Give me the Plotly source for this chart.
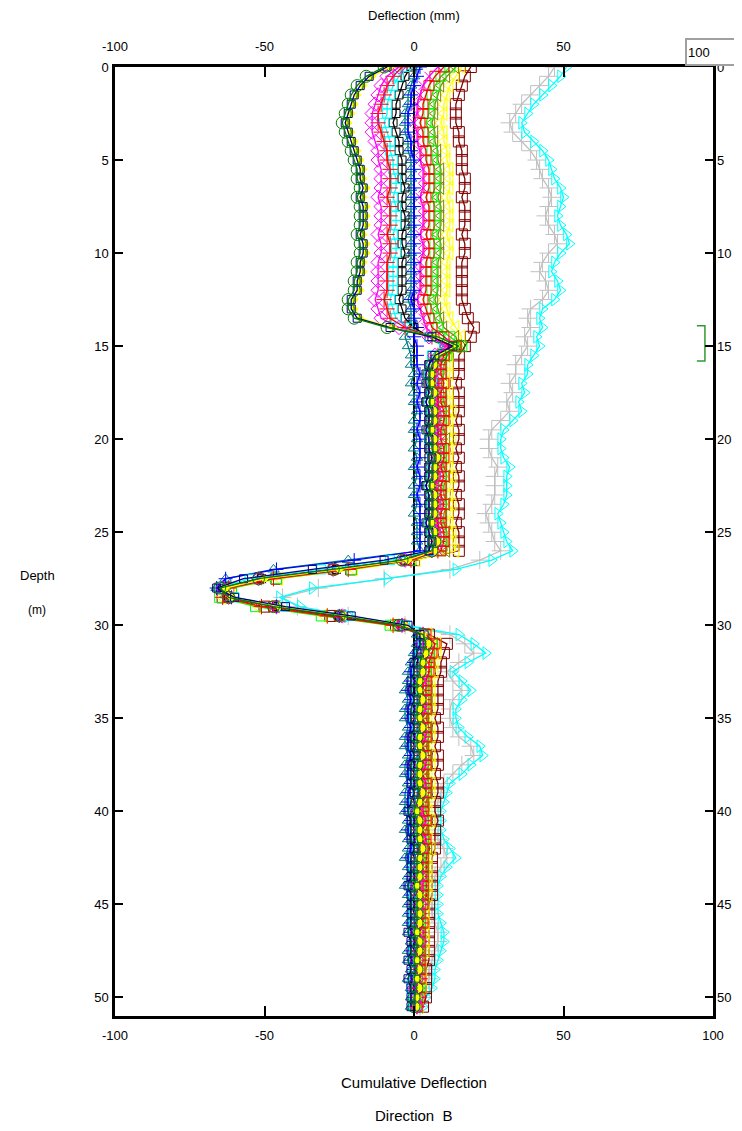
import plotly.graph_objects as go

# Depth of each reading (m), every 0.5 m from 0 to 50.5
depth = [i * 0.5 for i in range(102)]

# Cumulative deflection (mm) per survey, one value per depth
dkgreen_o = [-10,-16,-19,-21,-22,-23,-24,-23,-22,-21,-20,-19,-19,-18,-19,-18,-18,-18,-19,-18,-18,-19,-19,-20,-20,-22,-22,-20,
             -9, 8, 15, 9,
             6,5,5,6,5,6,6,5,6,6,7,6,6,5,6,6,6,5,6,7,6,
             -4,-27,-52,-65,-62,-47,-25,-5,3,
             4,3,2,2,1,1,2,1,1,2, 1,1,2,1,1,1,2,1,0,1, 1,1,2,1,1,1,0,1,1,1, 1,0,1,1,0,1,0,1,0,0]
navy_s = [-9,-15,-18,-20,-21,-22,-23,-22,-21,-20,-19,-18,-18,-17,-18,-17,-17,-17,-18,-17,-17,-18,-18,-19,-19,-21,-21,-19,
          -8, 6, 13, 7,
          5,4,4,5,4,5,5,4,5,5,6,5,5,4,5,5,5,4,5,6,5,
          -10,-34,-57,-66,-60,-43,-21,-2,2,
          2,1,0,0,-1,-1,0,-1,-1,0, -1,-1,0,-1,-1,-1,0,-1,-2,-1, -1,-1,0,-1,-1,-1,-2,-1,-1,-1, -1,-2,-1,-1,-2,-1,-2,-1,-1,-1]
yellow_d = [-8,-14,-17,-19,-20,-21,-22,-21,-20,-19,-18,-17,-17,-16,-17,-16,-16,-16,-17,-16,-16,-17,-17,-18,-18,-20,-20,-18,
            -7, 7, 14, 8,
            7,6,6,7,6,7,7,6,7,7,8,7,7,6,7,7,7,6,7,8,7,
            -2,-25,-50,-63,-61,-45,-23,-3,3,
            5,4,3,3,2,2,3,2,2,3, 2,2,3,2,2,2,3,2,1,2, 2,2,3,2,2,2,1,2,2,2, 2,1,2,2,1,2,1,2,1,1]
magenta_d = [-5,-9,-11,-12,-13,-14,-14,-14,-13,-12,-12,-11,-11,-11,-12,-11,-11,-11,-12,-11,-11,-12,-12,-12,-12,-13,-12,-11,
             -5, 5, 11, 7,
             6,6,5,6,6,7,6,6,7,6,7,6,7,6,6,7,6,6,7,7,6,
             -3,-27,-52,-64,-62,-46,-24,-4,3,
             3,3,2,2,2,1,2,2,1,2, 2,1,2,2,1,2,2,1,1,2, 1,2,2,1,1,2,1,1,2,1, 1,1,2,1,1,1,1,0,1,1]
red_p = [-4,-7,-9,-10,-11,-12,-12,-11,-10,-9,-9,-8,-8,-8,-9,-8,-8,-8,-9,-8,-8,-9,-9,-9,-9,-10,-9,-8,
         -3, 6, 12, 8,
         8,7,7,8,8,8,7,8,8,7,8,8,8,7,8,8,7,8,8,8,8,
         -1,-22,-47,-62,-64,-51,-29,-7,3,
         5,4,4,3,3,3,3,3,2,3, 3,2,3,3,2,3,3,2,2,3, 2,3,3,2,2,2,2,2,2,2, 2,2,2,1,2,1,2,1,1,1]
cyan_s = [-3,-5,-7,-8,-9,-9,-10,-9,-8,-8,-7,-7,-6,-6,-7,-6,-6,-6,-7,-6,-6,-7,-7,-7,-7,-8,-7,-6,
          -2, 5, 10, 6,
          6,5,6,6,5,6,6,6,5,6,6,6,6,5,6,6,6,5,6,6,6,
          -8,-31,-55,-65,-60,-44,-22,-3,2,
          3,2,2,1,1,1,1,1,0,1, 1,0,1,1,0,1,1,0,0,1, 0,1,1,0,0,1,0,0,1,0, 0,0,1,0,0,0,0,-1,0,0]
black_s = [-1,-3,-4,-5,-6,-6,-7,-6,-5,-5,-4,-4,-4,-3,-4,-4,-3,-3,-4,-4,-3,-4,-4,-4,-4,-5,-4,-3,
           0, 5, 10, 6,
           5,5,5,5,4,5,5,5,5,5,5,5,5,4,5,5,5,5,5,5,5,
           -3,-26,-51,-64,-62,-46,-25,-4,2,
           3,2,1,1,1,0,1,1,0,1, 0,0,1,0,0,1,0,0,0,0, 0,0,1,0,0,0,0,0,0,0, 0,0,0,0,0,0,0,0,0,0]
teal_t = [1,0,-1,-2,-2,-3,-3,-3,-2,-2,-1,-1,-1,-1,-1,-1,-1,-1,-1,-1,-1,-1,-1,-1,-1,-2,-1,-1,
          -1, -3, -2, -1,
          -1,0,-1,0,0,1,0,0,1,0,1,0,1,0,0,1,0,1,1,1,2,
          -22,-47,-63,-66,-61,-46,-25,-4,1,
          1,0,-1,-2,-2,-3,-2,-3,-3,-2, -3,-3,-2,-3,-3,-2,-3,-3,-3,-2, -3,-2,-2,-3,-2,-2,-3,-2,-2,-2, -2,-2,-1,-2,-2,-1,-2,-1,-1,-1]
magenta_x = [8,5,3,2,1,1,0,1,1,2,2,3,3,3,2,3,3,3,2,3,3,2,2,2,2,1,2,3,
             4, 7, 12, 8,
             8,7,8,8,7,8,8,8,7,8,8,8,8,7,8,8,8,7,8,8,8,
             -2,-26,-51,-64,-62,-46,-24,-4,3,
             5,4,3,3,3,2,3,3,2,3, 3,2,3,3,2,3,3,2,2,3, 2,3,3,2,2,2,2,2,2,2, 2,1,2,2,1,2,1,1,1,1]
red_s = [10,7,5,4,3,3,2,3,3,4,4,5,5,5,4,5,5,5,4,5,5,4,4,4,4,3,4,5,
         6, 10, 14, 10,
         9,9,10,9,9,10,10,9,9,10,10,9,10,9,9,10,9,9,10,10,9,
         -3,-27,-52,-65,-62,-47,-25,-4,4,
         7,6,5,5,4,4,4,4,3,4, 4,3,4,4,3,4,4,3,3,4, 3,4,3,3,3,3,3,3,3,2, 3,2,2,2,2,2,2,1,2,1]
green_s = [12,9,7,6,5,5,4,5,5,6,6,7,7,7,6,7,7,7,6,7,7,6,6,6,6,5,6,7,
           8, 12, 16, 11,
           9,8,8,9,8,9,9,8,9,9,9,8,9,8,9,9,9,8,9,9,9,
           -1,-21,-46,-61,-65,-53,-31,-8,3,
           6,5,4,4,3,3,4,3,3,4, 3,3,4,3,3,3,4,3,2,3, 3,3,3,2,3,3,2,3,3,2, 2,2,2,2,2,2,1,2,1,1]
olive_t = [14,11,9,8,7,7,6,7,7,8,8,9,9,9,8,9,9,9,8,9,9,8,8,8,8,7,8,9,
           10, 14, 15, 11,
           10,10,9,10,10,11,10,10,11,10,10,10,11,10,10,11,10,10,11,11,11,
           -4,-27,-52,-65,-62,-46,-24,-4,4,
           7,6,6,5,5,5,5,5,4,5, 5,4,5,5,4,5,5,4,4,5, 4,4,5,4,4,4,4,4,3,3, 3,3,3,3,3,2,2,2,2,2]
yellow_t = [16,14,12,11,10,10,9,10,10,11,11,12,12,12,11,12,12,12,11,12,12,11,11,11,11,10,11,12,
            14, 16, 15, 12,
            12,12,11,12,12,13,12,12,13,12,12,12,13,12,12,13,12,12,13,13,14,
            1,-20,-45,-61,-64,-52,-30,-8,5,
            8,8,7,7,6,6,6,6,5,6, 6,5,6,6,5,6,6,5,5,6, 5,5,6,5,5,5,5,5,4,4, 4,4,4,4,3,3,3,3,2,2]
dkred_s = [19,17,16,15,14,14,14,15,15,16,16,16,17,17,16,17,17,17,16,17,17,16,16,16,16,16,17,18,
           20, 19, 17, 15,
           15,15,14,15,15,15,14,15,15,14,15,14,15,15,14,15,15,14,15,15,15,
           0,-21,-46,-62,-64,-50,-28,-6,5,
           11,10,9,9,8,8,8,8,7,8, 8,7,8,8,7,8,8,7,7,8, 7,7,7,6,6,6,6,6,5,5, 5,5,5,5,5,4,4,4,4,3]
blue_p = [2,1,0,-1,-1,-2,-2,-2,-1,-1,0,0,0,0,0,0,0,0,0,0,0,0,0,0,0,-1,0,0,
          1, 0, 1, 1,
          1,2,1,2,1,2,2,1,2,2,2,1,2,2,1,2,2,2,2,2,2,
          -20,-46,-63,-66,-61,-46,-25,-4,2,
          2,1,0,-1,-1,-2,-1,-2,-2,-1, -2,-2,-1,-2,-2,-1,-2,-2,-2,-1, -2,-1,-1,-2,-1,-1,-2,-1,-1,-1, -1,-1,0,-1,-1,0,-1,0,0,0]
gray_p = [47,45,42,39,36,34,32,33,36,39,41,42,43,45,46,45,44,45,47,48,45,43,42,44,45,43,39,38,
          39, 37, 38, 36,
          34,34,32,33,31,32,29,26,25,25,26,28,27,27,27,26,24,25,26,27,29,
          22,12,-10,-32,-44,-39,-22,-3,12,
          17,20,15,11,13,16,13,12,12,13, 15,19,20,16,13,10,9,8,7,7, 7,8,10,11,9,7,6,6,6,6, 7,8,8,7,6,5,5,4,3,2]
cyan_t = [51,49,46,43,40,38,36,37,40,43,45,46,47,49,50,49,48,49,51,52,49,47,46,48,49,47,43,42,
          43, 41, 42, 40,
          38,38,36,37,35,36,33,30,29,29,30,32,31,31,31,30,28,29,30,31,33,
          26,14,-9,-34,-45,-38,-22,-3,15,
          20,24,18,13,16,19,16,14,14,15, 18,22,23,19,16,12,11,10,9,9, 9,10,12,14,11,9,8,8,8,8, 9,10,10,9,8,7,7,6,4,3]

# Green range bracket drawn against the right axis (deflection, depth)
bracket_x = [94.6, 97.3, 97.3, 94.6]
bracket_y = [13.9, 13.9, 15.8, 15.8]

x_ticks = [-100, -50, 0, 50, 100]
x_tick_text = ["-100", "-50", "0", "50", "100"]
x_top_ticks = [-100, -50, 0, 50]
x_top_text = ["-100", "-50", "0", "50"]
y_ticks = [0, 5, 10, 15, 20, 25, 30, 35, 40, 45, 50]

FONT = "Liberation Sans Narrow, Liberation Sans, Arial, sans-serif"

series = [
    ("gray +", gray_p, "#c0c0c0", "cross-thin-open", 13),
    ("cyan >", cyan_t, "#00ffff", "triangle-right-open", 11),
    ("dkred s", dkred_s, "#800000", "square-open", 11),
    ("yellow t", yellow_t, "#ffff00", "triangle-left-open", 12),
    ("olive t", olive_t, "#808000", "triangle-left-open", 11),
    ("green s", green_s, "#00ff00", "square-open", 10),
    ("red s", red_s, "#ff0000", "square-open", 10),
    ("magenta x", magenta_x, "#ff00ff", "x-thin-open", 9),
    ("teal t", teal_t, "#008080", "triangle-up-open", 10),
    ("blue +", blue_p, "#0000ff", "cross-thin-open", 10),
    ("black s", black_s, "#000000", "square-open", 8),
    ("cyan s", cyan_s, "#00ffff", "square-open", 9),
    ("red +", red_p, "#ff0000", "cross-thin-open", 11),
    ("magenta d", magenta_d, "#ff00ff", "diamond-open", 11),
    ("yellow d", yellow_d, "#ffff00", "diamond", 6),
    ("navy s", navy_s, "#000080", "square-open", 8),
    ("dkgreen o", dkgreen_o, "#008000", "circle-open", 12),
]

fig = go.Figure()
for name, vals, col, sym, size in series:
    fig.add_trace(go.Scatter(
        x=vals, y=depth, mode="lines+markers", name=name,
        line=dict(color=col, width=1.3),
        marker=dict(symbol=sym, size=size, color=col, line=dict(color=col, width=1)),
        showlegend=False, hoverinfo="skip"))

fig.add_trace(go.Scatter(x=bracket_x, y=bracket_y, mode="lines",
                         line=dict(color="#339933", width=1.5), showlegend=False, hoverinfo="skip"))
# companion trace so the top / right axes are drawn
fig.add_trace(go.Scatter(x=[None], y=[None], xaxis="x2", yaxis="y2", showlegend=False))

# The page body adds an 8 px offset; figure is sized so the plot box lands on
# page pixels x 115..713, y 67..1016.
OFF = 8
FIG_W, FIG_H = 742 - OFF, 1131 - 2 * OFF
axfont = dict(family=FONT, size=13, color="black")
fig.update_layout(
    width=FIG_W, height=FIG_H,
    margin=dict(l=115 - OFF, r=742 - 713, t=67 - OFF, b=FIG_H - (1016 - OFF), autoexpand=False),
    paper_bgcolor="white", plot_bgcolor="white",
    font=axfont,
    xaxis=dict(range=[-100, 100], tickvals=x_ticks, ticktext=x_tick_text, ticks="inside",
               ticklen=10, tickwidth=2, automargin=False, ticklabelstandoff=6,
               showline=True, linewidth=2.5, linecolor="black", mirror="allticks",
               showgrid=False, zeroline=True, zerolinecolor="black", zerolinewidth=2,
               tickfont=axfont, tickcolor="black"),
    xaxis2=dict(range=[-100, 100], tickvals=x_top_ticks, ticktext=x_top_text, overlaying="x",
                side="top", ticks="", automargin=False, ticklabelstandoff=12,
                showline=False, showgrid=False, zeroline=False, tickfont=axfont),
    yaxis=dict(range=[51, 0], tickvals=y_ticks, ticks="inside", ticklen=8, tickwidth=2,
               automargin=False, ticklabelstandoff=1,
               showline=True, linewidth=2.5, linecolor="black", mirror="allticks",
               showgrid=False, zeroline=False, tickfont=axfont, tickcolor="black"),
    yaxis2=dict(range=[51, 0], tickvals=y_ticks, overlaying="y", side="right",
                ticks="", automargin=False, ticklabelstandoff=3,
                showline=False, showgrid=False, zeroline=False, tickfont=axfont),
)

def px_x(px):
    return (px - 115) / 598

def px_y(py):
    return (1016 - py) / 949

ann = [
    ("Deflection (mm)", 414, 16, 13),
    ("Cumulative Deflection", 414, 1082, 15),
    ("Direction  B", 414, 1115, 15),
    ("Depth", 37, 575, 13),
    ("(m)", 37, 610, 12),
]
for text, ax_, ay_, fs in ann:
    fig.add_annotation(text=text, x=px_x(ax_), y=px_y(ay_), xref="paper", yref="paper",
                       showarrow=False, font=dict(family=FONT, size=fs, color="black"),
                       xanchor="center", yanchor="middle")

fig.add_annotation(text="100", x=px_x(713), y=px_y(51.5), xref="paper", yref="paper",
                   showarrow=False, font=dict(family=FONT, size=13, color="black"),
                   xanchor="center", yanchor="middle", width=50, height=22, align="left",
                   bgcolor="white", bordercolor="#a0a0a0", borderwidth=2, borderpad=1)

fig.write_html("out.html")
